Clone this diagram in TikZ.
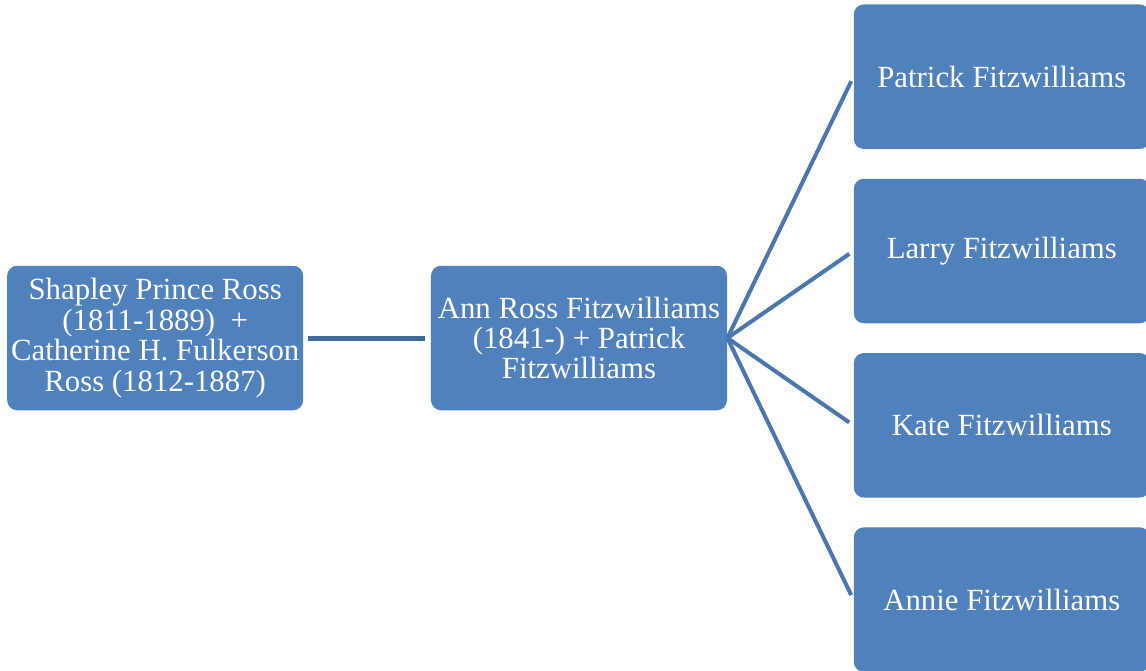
\documentclass[tikz,border=0pt]{standalone}
\usepackage{fontspec}
\setmainfont{Liberation Serif}
\usetikzlibrary{positioning}
\definecolor{boxblue}{HTML}{4F81BD}
\definecolor{fanblue}{HTML}{4A77B0}
\definecolor{linkblue}{HTML}{3F6A9C}

\begin{document}
\begin{tikzpicture}[node distance=14.5pt,
        person/.style={rectangle, rounded corners=5pt, fill=boxblue, text=white,
            minimum width=148pt, minimum height=72.25pt, inner xsep=1pt,
            align=center, font=\fontsize{15.4}{15.2}\selectfont},
        fan/.style={draw=fanblue, line width=2pt, shorten >=2.5pt},
        link/.style={draw=linkblue, line width=2.5pt, shorten <=2pt, shorten >=3pt}]
        \useasboundingbox (-289.5pt,-166pt) rectangle (283.5pt,169pt);
        \node [person] (ann) at (0,0) {Ann Ross Fitzwilliams\\(1841-) + Patrick\\Fitzwilliams};
        \node [person, left=63.5pt of ann] (parents) {Shapley Prince Ross\\(1811-1889)\ \ +\\Catherine H. Fulkerson\\Ross (1812-1887)};
        \node [person, above right=58pt and 63pt of ann] (patrick) {Patrick Fitzwilliams};
        \node [person, below=of patrick] (larry) {Larry Fitzwilliams};
        \node [person, below=of larry] (kate) {Kate Fitzwilliams};
        \node [person, below=of kate] (annie) {Annie Fitzwilliams};
        \draw [link] (parents) -- (ann);
        \draw [fan] (ann.east) -- (patrick.west);
        \draw [fan] (ann.east) -- (larry.west);
        \draw [fan] (ann.east) -- (kate.west);
        \draw [fan] (ann.east) -- (annie.west);
    \end{tikzpicture}
\end{document}
